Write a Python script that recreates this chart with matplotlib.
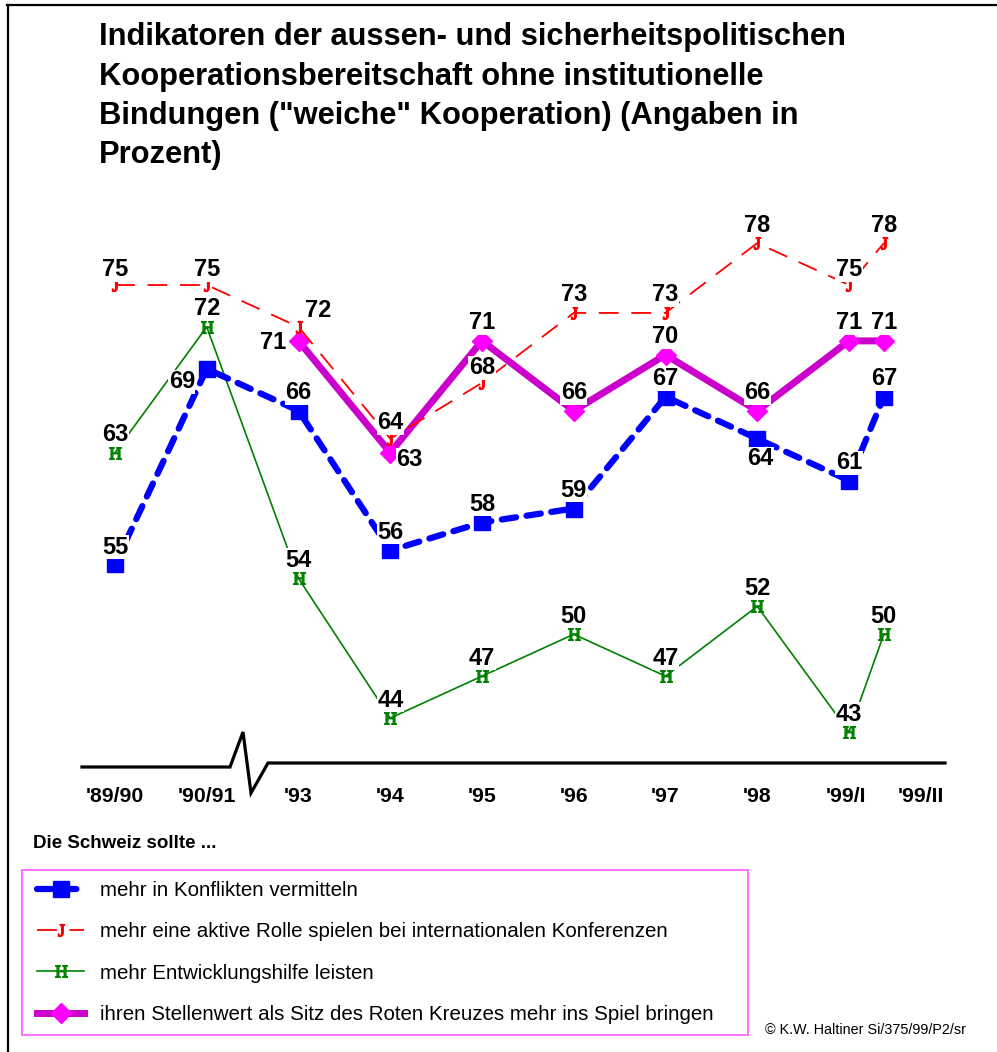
import matplotlib
matplotlib.use("Agg")
import matplotlib.pyplot as plt
from matplotlib.lines import Line2D
from matplotlib.patches import Rectangle

plt.rcParams['font.family'] = ['Liberation Sans', 'DejaVu Sans']
plt.rcParams['mathtext.fontset'] = 'custom'
plt.rcParams['mathtext.rm'] = 'Liberation Serif'

# ---------------- data ----------------
categories = ["'89/90", "'90/91", "'93", "'94", "'95", "'96", "'97", "'98", "'99/I", "'99/II"]
x_data = [0, 1, 2, 3, 4, 5, 6, 7, 8, 8.38]          # where the survey points sit
x_ticks = [0, 1, 2, 3, 4, 5, 6, 7, 7.97, 8.78]       # where the period labels sit

konflikte = [55, 69, 66, 56, 58, 59, 67, 64, 61, 67]
konferenzen = [75, 75, 72, 64, 68, 73, 73, 78, 75, 78]
entwicklung = [63, 72, 54, 44, 47, 50, 47, 52, 43, 50]
rotes_kreuz = [None, None, 71, 63, 71, 66, 70, 66, 71, 71]

legend_labels = [
    "mehr in Konflikten vermitteln",
    "mehr eine aktive Rolle spielen bei internationalen Konferenzen",
    "mehr Entwicklungshilfe leisten",
    "ihren Stellenwert als Sitz des Roten Kreuzes mehr ins Spiel bringen",
]
title_lines = [
    "Indikatoren der aussen- und sicherheitspolitischen",
    "Kooperationsbereitschaft ohne institutionelle",
    'Bindungen ("weiche" Kooperation) (Angaben in',
    "Prozent)",
]

# ---------------- layout ----------------
W, H = 997, 1052
fig = plt.figure(figsize=(W / 100, H / 100), dpi=100)
ax = fig.add_axes([0, 0, 1, 1])
X0, DXP, Y75, DYP = 115, 91.75, 285, 13.97
ax.set_xlim(-X0 / DXP, (W - X0) / DXP)
ax.set_ylim(75 - (H - Y75) / DYP, 75 + Y75 / DYP)
ax.axis('off')


def fp(x, y):
    return (x / W, 1 - y / H)


# ---------------- series ----------------
green, = ax.plot(x_data, entwicklung, color='#008000', lw=1.2,
                 marker=r'$\mathrm{H}$', markersize=8.5, zorder=2)
blue, = ax.plot(x_data, konflikte, color='#0000FF', lw=4.5,
                linestyle=(0, (2.3, 1.7)), dash_capstyle='round',
                marker='s', markersize=11.5, zorder=3)
xm = [x for x, v in zip(x_data, rotes_kreuz) if v is not None]
vm = [v for v in rotes_kreuz if v is not None]
mag, = ax.plot(xm, vm, color='#CC00CC', lw=5, marker='D', markersize=10.5,
               markerfacecolor='#FF00FF', markeredgecolor='#FF00FF', zorder=4)
red, = ax.plot(x_data, konferenzen, color='#FF0000', lw=1.3,
               linestyle=(0, (11, 7)), marker=r'$\mathrm{J}$', markersize=8.5, zorder=5)


# ---------------- value labels ----------------
def labels(vals, offsets, default=(0, 18)):
    for i, (x, v) in enumerate(zip(x_data, vals)):
        if v is None:
            continue
        dx, dy = offsets.get(i, default)
        ax.annotate(str(v), (x, v), xytext=(dx, dy), textcoords='offset pixels',
                    ha='center', va='center', fontsize=17, fontweight='bold',
                    bbox=dict(boxstyle='square,pad=0.02', fc='white', ec='none'),
                    zorder=6)


labels(konflikte, {0: (0, 17), 1: (-25, -13), 7: (3, -20)})
labels(konferenzen, {0: (0, 15), 1: (0, 15), 2: (20, 16), 3: (0, 16), 4: (0, 15), 8: (0, 15)})
labels(entwicklung, {})
labels(rotes_kreuz, {2: (-25, -2), 3: (19, -7)})

# period labels
for xt, c in zip(x_ticks, categories):
    ax.text(xt, 75 - (797 - Y75) / DYP, c, ha='center', va='center',
            fontsize=15.3, fontweight='bold')

# ---------------- baseline with break ----------------
pts = [(82, 767), (230, 767), (243, 732), (251, 793), (268, 763), (945, 763)]
fig.add_artist(Line2D([fp(*p)[0] for p in pts], [fp(*p)[1] for p in pts],
                      color='black', lw=2.3, solid_joinstyle='miter'))

# frame lines (top and left)
fig.add_artist(Line2D([fp(7, 5)[0], fp(997, 5)[0]], [fp(7, 5)[1]] * 2, color='black', lw=1.6))
fig.add_artist(Line2D([fp(8, 5)[0]] * 2, [fp(8, 5)[1], fp(8, 1052)[1]], color='black', lw=1.6))

# ---------------- title ----------------
for k, line in enumerate(title_lines):
    fig.text(*fp(99, 37 + 39.5 * k), line, ha='left', va='center',
             fontsize=22.2, fontweight='bold')

fig.text(*fp(33, 843), "Die Schweiz sollte ...", ha='left', va='center',
         fontsize=13.5, fontweight='bold')

# ---------------- legend ----------------
x0, y0 = fp(22, 1035)
x1, y1 = fp(748, 870)
fig.add_artist(Rectangle((x0, y0), x1 - x0, y1 - y0, transform=fig.transFigure,
                         fill=False, ec='#FF66FF', lw=1.3))
fig.legend([blue, red, green, mag], legend_labels, loc='upper left',
           bbox_to_anchor=fp(31, 875), frameon=False, fontsize=14.8,
           handlelength=2.3, handletextpad=0.75, labelspacing=1.08,
           numpoints=1, borderaxespad=0, borderpad=0.3)

fig.text(*fp(966, 1030), "\u00a9 K.W. Haltiner Si/375/99/P2/sr", ha='right', va='center',
         fontsize=10.4)

fig.savefig('out.png', dpi=100)
